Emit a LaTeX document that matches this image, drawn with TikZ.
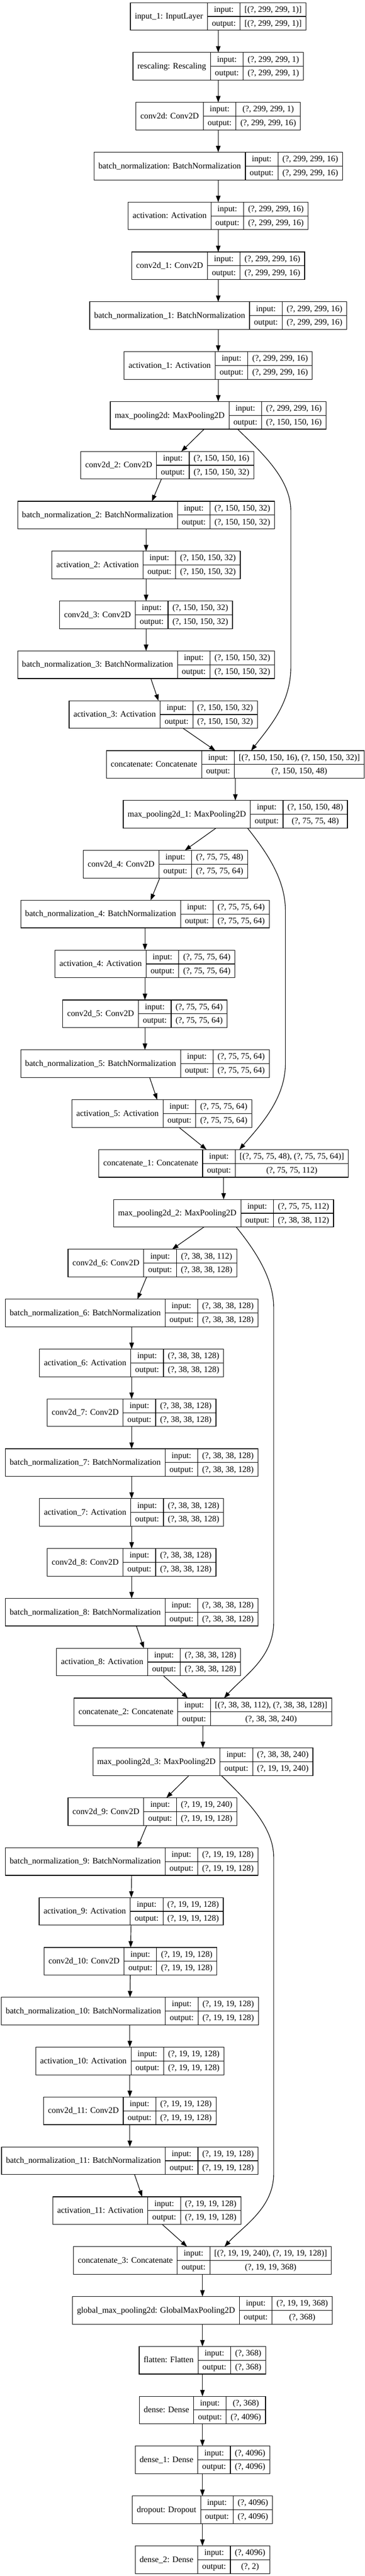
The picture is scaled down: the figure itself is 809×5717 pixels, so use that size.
\documentclass[tikz,border=0pt]{standalone}
\usepackage{fontspec}
\setmainfont{Liberation Serif}
\usetikzlibrary{arrows.meta,calc}
\newlength\recA \newlength\recB \newlength\recC \newlength\recT
\newlength\recTmp \newlength\recTmpb
\newcommand\recfont{\fontsize{14pt}{16pt}\selectfont}
\newcommand\recpad{14.7pt}
\tikzset{
  recbox/.style={draw=black, line width=1pt, inner sep=0pt, outer sep=0pt, minimum height=46pt},
  recline/.style={draw=black, line width=1pt},
  txt/.style={font=\recfont, inner sep=0pt, text height=11pt, text depth=2.8pt, anchor=center},
  meas/.style={inner sep=0pt, outer sep=0pt, font=\recfont},
  edge/.style={draw=black, line width=1pt, -{Triangle[length=10.5pt,width=7.5pt]}}
}
% #1 name, #2 x (px), #3 rank, #4 label, #5 input, #6 output
\newcommand\rec[6]{%
  \path node[meas] (#1-m) at (0,0) {%
    \settowidth\recTmp{#4}\global\recA=\recTmp
    \settowidth\recTmp{output:}\global\recB=\recTmp
    \settowidth\recTmp{#5}\settowidth\recTmpb{#6}%
    \ifdim\recTmpb>\recTmp \recTmp=\recTmpb\fi
    \global\recC=\recTmp};
  \addtolength\recA{\recpad}\addtolength\recB{\recpad}\addtolength\recC{\recpad}%
  \recT=\recA \advance\recT\recB \advance\recT\recC
  \node[recbox, minimum width=\recT] (#1) at (#2,{36.5+110.67*#3}) {};
  \draw[recline] ([xshift=\recA]#1.north west) -- ([xshift=\recA]#1.south west);
  \draw[recline] ([xshift={\recA+\recB}]#1.north west) -- ([xshift={\recA+\recB}]#1.south west);
  \draw[recline] ([xshift=\recA]#1.west) -- (#1.east);
  \node[txt] (#1-l) at ([xshift={0.5\recA}]#1.west) {#4};
  \node[txt] (#1-i) at ([xshift={\recA+0.5\recB}, yshift=11.5pt]#1.west) {input:};
  \node[txt] (#1-o) at ([xshift={\recA+0.5\recB}, yshift=-11.5pt]#1.west) {output:};
  \node[txt] (#1-vi) at ([xshift={\recA+\recB+0.5\recC}, yshift=11.5pt]#1.west) {#5};
  \node[txt] (#1-vo) at ([xshift={\recA+\recB+0.5\recC}, yshift=-11.5pt]#1.west) {#6};
}
\begin{document}
\begin{tikzpicture}[x=0.75pt, y=-0.75pt]
\useasboundingbox (0,0) rectangle (809,5717);
\fill[white] (0,0) rectangle (809,5717);
\rec{n0}{484}{0}{input\_1: InputLayer}{[(?, 299, 299, 1)]}{[(?, 299, 299, 1)]}
\rec{n1}{484}{1}{rescaling: Rescaling}{(?, 299, 299, 1)}{(?, 299, 299, 1)}
\rec{n2}{484}{2}{conv2d: Conv2D}{(?, 299, 299, 1)}{(?, 299, 299, 16)}
\rec{n3}{484}{3}{batch\_normalization: BatchNormalization}{(?, 299, 299, 16)}{(?, 299, 299, 16)}
\rec{n4}{484}{4}{activation: Activation}{(?, 299, 299, 16)}{(?, 299, 299, 16)}
\rec{n5}{484}{5}{conv2d\_1: Conv2D}{(?, 299, 299, 16)}{(?, 299, 299, 16)}
\rec{n6}{484}{6}{batch\_normalization\_1: BatchNormalization}{(?, 299, 299, 16)}{(?, 299, 299, 16)}
\rec{n7}{484}{7}{activation\_1: Activation}{(?, 299, 299, 16)}{(?, 299, 299, 16)}
\rec{n8}{484}{8}{max\_pooling2d: MaxPooling2D}{(?, 299, 299, 16)}{(?, 150, 150, 16)}
\rec{n9}{371}{9}{conv2d\_2: Conv2D}{(?, 150, 150, 16)}{(?, 150, 150, 32)}
\rec{n10}{324}{10}{batch\_normalization\_2: BatchNormalization}{(?, 150, 150, 32)}{(?, 150, 150, 32)}
\rec{n11}{324}{11}{activation\_2: Activation}{(?, 150, 150, 32)}{(?, 150, 150, 32)}
\rec{n12}{324}{12}{conv2d\_3: Conv2D}{(?, 150, 150, 32)}{(?, 150, 150, 32)}
\rec{n13}{324}{13}{batch\_normalization\_3: BatchNormalization}{(?, 150, 150, 32)}{(?, 150, 150, 32)}
\rec{n14}{362}{14}{activation\_3: Activation}{(?, 150, 150, 32)}{(?, 150, 150, 32)}
\rec{n15}{522}{15}{concatenate: Concatenate}{[(?, 150, 150, 16), (?, 150, 150, 32)]}{(?, 150, 150, 48)}
\rec{n16}{522}{16}{max\_pooling2d\_1: MaxPooling2D}{(?, 150, 150, 48)}{(?, 75, 75, 48)}
\rec{n17}{367}{17}{conv2d\_4: Conv2D}{(?, 75, 75, 48)}{(?, 75, 75, 64)}
\rec{n18}{321.5}{18}{batch\_normalization\_4: BatchNormalization}{(?, 75, 75, 64)}{(?, 75, 75, 64)}
\rec{n19}{321.5}{19}{activation\_4: Activation}{(?, 75, 75, 64)}{(?, 75, 75, 64)}
\rec{n20}{321.5}{20}{conv2d\_5: Conv2D}{(?, 75, 75, 64)}{(?, 75, 75, 64)}
\rec{n21}{321.5}{21}{batch\_normalization\_5: BatchNormalization}{(?, 75, 75, 64)}{(?, 75, 75, 64)}
\rec{n22}{359}{22}{activation\_5: Activation}{(?, 75, 75, 64)}{(?, 75, 75, 64)}
\rec{n23}{496}{23}{concatenate\_1: Concatenate}{[(?, 75, 75, 48), (?, 75, 75, 64)]}{(?, 75, 75, 112)}
\rec{n24}{496}{24}{max\_pooling2d\_2: MaxPooling2D}{(?, 75, 75, 112)}{(?, 38, 38, 112)}
\rec{n25}{338}{25}{conv2d\_6: Conv2D}{(?, 38, 38, 112)}{(?, 38, 38, 128)}
\rec{n26}{292}{26}{batch\_normalization\_6: BatchNormalization}{(?, 38, 38, 128)}{(?, 38, 38, 128)}
\rec{n27}{292}{27}{activation\_6: Activation}{(?, 38, 38, 128)}{(?, 38, 38, 128)}
\rec{n28}{292}{28}{conv2d\_7: Conv2D}{(?, 38, 38, 128)}{(?, 38, 38, 128)}
\rec{n29}{292}{29}{batch\_normalization\_7: BatchNormalization}{(?, 38, 38, 128)}{(?, 38, 38, 128)}
\rec{n30}{292}{30}{activation\_7: Activation}{(?, 38, 38, 128)}{(?, 38, 38, 128)}
\rec{n31}{292}{31}{conv2d\_8: Conv2D}{(?, 38, 38, 128)}{(?, 38, 38, 128)}
\rec{n32}{292}{32}{batch\_normalization\_8: BatchNormalization}{(?, 38, 38, 128)}{(?, 38, 38, 128)}
\rec{n33}{329.6}{33}{activation\_8: Activation}{(?, 38, 38, 128)}{(?, 38, 38, 128)}
\rec{n34}{450}{34}{concatenate\_2: Concatenate}{[(?, 38, 38, 112), (?, 38, 38, 128)]}{(?, 38, 38, 240)}
\rec{n35}{450}{35}{max\_pooling2d\_3: MaxPooling2D}{(?, 38, 38, 240)}{(?, 19, 19, 240)}
\rec{n36}{338}{36}{conv2d\_9: Conv2D}{(?, 19, 19, 240)}{(?, 19, 19, 128)}
\rec{n37}{292}{37}{batch\_normalization\_9: BatchNormalization}{(?, 19, 19, 128)}{(?, 19, 19, 128)}
\rec{n38}{291}{38}{activation\_9: Activation}{(?, 19, 19, 128)}{(?, 19, 19, 128)}
\rec{n39}{289.4}{39}{conv2d\_10: Conv2D}{(?, 19, 19, 128)}{(?, 19, 19, 128)}
\rec{n40}{288}{40}{batch\_normalization\_10: BatchNormalization}{(?, 19, 19, 128)}{(?, 19, 19, 128)}
\rec{n41}{288}{41}{activation\_10: Activation}{(?, 19, 19, 128)}{(?, 19, 19, 128)}
\rec{n42}{288}{42}{conv2d\_11: Conv2D}{(?, 19, 19, 128)}{(?, 19, 19, 128)}
\rec{n43}{288}{43}{batch\_normalization\_11: BatchNormalization}{(?, 19, 19, 128)}{(?, 19, 19, 128)}
\rec{n44}{325.7}{44}{activation\_11: Activation}{(?, 19, 19, 128)}{(?, 19, 19, 128)}
\rec{n45}{449}{45}{concatenate\_3: Concatenate}{[(?, 19, 19, 240), (?, 19, 19, 128)]}{(?, 19, 19, 368)}
\rec{n46}{449}{46}{global\_max\_pooling2d: GlobalMaxPooling2D}{(?, 19, 19, 368)}{(?, 368)}
\rec{n47}{449}{47}{flatten: Flatten}{(?, 368)}{(?, 368)}
\rec{n48}{449}{48}{dense: Dense}{(?, 368)}{(?, 4096)}
\rec{n49}{449}{49}{dense\_1: Dense}{(?, 4096)}{(?, 4096)}
\rec{n50}{449}{50}{dropout: Dropout}{(?, 4096)}{(?, 4096)}
\rec{n51}{449}{51}{dense\_2: Dense}{(?, 4096)}{(?, 2)}
% chain edges
\foreach \i [evaluate=\i as \j using int(\i+1)] in {0,...,50} {
  \draw[edge] (n\i) -- (n\j);
}
% skip connections
\draw[edge] ($(n8.south)+(43,0)$) .. controls (575,1000) and (645,1060) .. (645,1134)
  -- (645,1480) .. controls (645,1560) and (600,1610) .. ($(n15.north)+(35,0)$);
\draw[edge] ($(n16.south)+(27,0)$) .. controls (590,1890) and (633,1950) .. (633,2021)
  -- (633,2360) .. controls (633,2440) and (575,2500) .. ($(n23.north)+(35,0)$);
\draw[edge] ($(n24.south)+(28,0)$) .. controls (570,2780) and (607,2840) .. (607,2902)
  -- (607,3600) .. controls (607,3680) and (540,3720) .. ($(n34.north)+(47,0)$);
\draw[edge] ($(n35.south)+(41,0)$) .. controls (540,3990) and (607,4050) .. (607,4122)
  -- (607,4824) .. controls (607,4900) and (540,4940) .. ($(n45.north)+(49,0)$);
\end{tikzpicture}
\end{document}
